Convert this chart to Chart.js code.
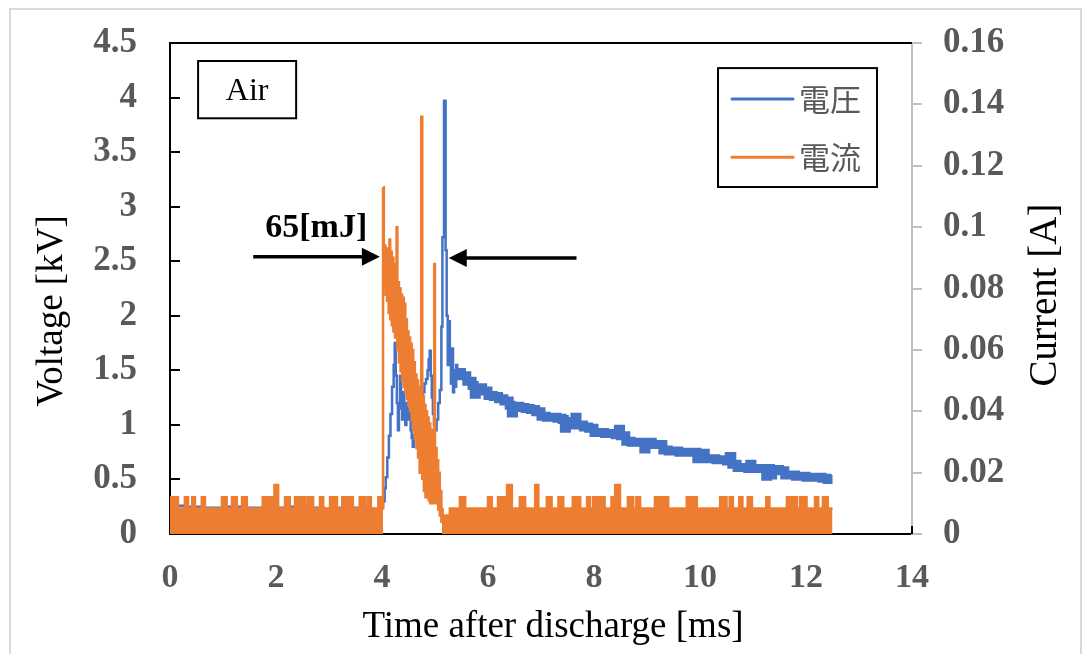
<!DOCTYPE html>
<html><head><meta charset="utf-8">
<script src="https://cdn.jsdelivr.net/npm/chart.js@4"></script>
<style>html,body{margin:0;padding:0;background:#fff}canvas{display:block}</style>
</head><body>
<canvas id="c" width="1091" height="654"></canvas>
<script>
// ---- tick values and labels ----
const timeTicksMs = [0, 2, 4, 6, 8, 10, 12, 14];
const timeTickLabels = ['0', '2', '4', '6', '8', '10', '12', '14'];
const voltageTicksKV = [0, 0.5, 1, 1.5, 2, 2.5, 3, 3.5, 4, 4.5];
const voltageTickLabels = ['0', '0.5', '1', '1.5', '2', '2.5', '3', '3.5', '4', '4.5'];
const currentTicksA = [0, 0.02, 0.04, 0.06, 0.08, 0.1, 0.12, 0.14, 0.16];
const currentTickLabels = ['0', '0.02', '0.04', '0.06', '0.08', '0.1', '0.12', '0.14', '0.16'];
const seriesLabels = ['電圧', '電流'];

// ---- voltage series (time in ms, value in kV) ----
const voltageTimeMs = [
  0, 0.3, 0.6, 1.0, 1.4, 1.8, 2.2, 2.6, 2.9, 3.2, 3.5, 3.78, 3.82, 3.87, 3.95,
  4.02, 4.05, 4.07, 4.10, 4.13, 4.16, 4.19, 4.22, 4.24, 4.26, 4.28, 4.30, 4.32, 4.34, 4.36, 4.38,
  4.40, 4.42, 4.44, 4.46, 4.48, 4.50, 4.52, 4.54, 4.56, 4.58, 4.60, 4.62, 4.65, 4.68, 4.71, 4.74,
  4.77, 4.80, 4.83, 4.86, 4.88, 4.90, 4.92, 4.94, 4.96, 4.98, 5.00, 5.03, 5.06, 5.09, 5.12, 5.14,
  5.17, 5.20, 5.22, 5.24, 5.26, 5.28, 5.30, 5.32, 5.34, 5.36, 5.38, 5.40,
  5.42, 5.5, 5.6, 5.7, 5.74, 5.78, 5.9, 6.0, 6.1, 6.2, 6.3, 6.4, 6.44, 6.48, 6.6, 6.7, 6.8, 6.9,
  7.0, 7.1, 7.2, 7.3, 7.4, 7.44, 7.48, 7.6, 7.64, 7.68, 7.8, 7.9, 8.0, 8.1, 8.2, 8.3, 8.4, 8.46,
  8.5, 8.6, 8.7, 8.8, 8.9, 8.94, 8.98, 9.1, 9.2, 9.3, 9.4, 9.5, 9.6, 9.7, 9.8, 9.9, 9.94, 9.98,
  10.1, 10.2, 10.3, 10.4, 10.5, 10.55, 10.6, 10.7, 10.8, 10.9, 10.94, 10.98, 11.1, 11.2, 11.24,
  11.28, 11.33, 11.37, 11.5, 11.6, 11.7, 11.8, 11.9, 12.0, 12.1, 12.2, 12.3, 12.4, 12.5
];
const voltageKV = [
  0.26, 0.25, 0.24, 0.25, 0.24, 0.24, 0.25, 0.24, 0.23, 0.24, 0.24, 0.22, 0.12, 0.2, 0.25,
  0.3, 0.42, 0.52, 0.7, 0.9, 1.1, 1.35, 1.55, 1.75, 1.45, 1.2, 0.95, 1.15, 1.45, 1.2, 1.05,
  1.3, 1.1, 1.0, 1.2, 1.1, 1.05, 1.15, 0.95, 0.88, 0.8, 0.9, 1.0, 1.08, 1.1, 1.18, 1.25,
  1.3, 1.38, 1.42, 1.5, 1.6, 1.68, 1.45, 1.25, 1.1, 1.0, 0.95, 1.05, 1.2, 1.32, 1.9, 2.72,
  3.97, 2.6, 2.0, 1.55, 1.95, 1.6, 1.38, 1.7, 1.3, 1.5, 1.35, 1.55,
  1.48, 1.45, 1.4, 1.36, 1.28, 1.34, 1.31, 1.27, 1.26, 1.24, 1.22, 1.18, 1.11, 1.17, 1.16, 1.15, 1.14, 1.12,
  1.08, 1.07, 1.07, 1.06, 1.05, 0.97, 1.03, 1.0, 1.07, 1.0, 0.98, 0.97, 0.93, 0.93, 0.92, 0.92, 0.91, 0.96,
  0.9, 0.85, 0.84, 0.84, 0.84, 0.78, 0.84, 0.82, 0.82, 0.77, 0.76, 0.76, 0.75, 0.75, 0.75, 0.75, 0.69, 0.74,
  0.69, 0.69, 0.68, 0.68, 0.67, 0.71, 0.64, 0.61, 0.61, 0.6, 0.64, 0.6, 0.6, 0.6, 0.53,
  0.6, 0.54, 0.59, 0.58, 0.54, 0.54, 0.53, 0.53, 0.52, 0.52, 0.52, 0.51, 0.5, 0.5
];

// ---- current series (time in ms, value in A), sample-and-hold ----
const currentTimeMs = [
  0, 0.06, 0.09, 0.15, 0.28, 0.34, 0.42, 0.47, 0.6, 0.66, 0.98, 1.07, 1.17, 1.26, 1.36, 1.45,
  1.75, 1.85, 1.89, 1.97, 2.04, 2.17, 2.26, 2.36, 2.43, 2.46, 2.55, 2.6, 2.7, 2.83, 2.89,
  3.02, 3.15, 3.25, 3.34, 3.37, 3.45, 3.58, 3.68, 3.73, 3.79, 3.82, 3.86, 3.93, 3.98,
  4.02, 4.035, 4.05, 4.065, 4.08, 4.095, 4.11, 4.125, 4.14, 4.155, 4.17, 4.185, 4.2, 4.215,
  4.23, 4.245, 4.26, 4.275, 4.29, 4.305, 4.32, 4.335, 4.35, 4.365, 4.38, 4.395, 4.41, 4.425,
  4.44, 4.455, 4.47, 4.485, 4.5, 4.515, 4.53, 4.545, 4.56, 4.575, 4.59, 4.605, 4.62, 4.635,
  4.65, 4.665, 4.68, 4.695, 4.71, 4.725, 4.74, 4.76, 4.775, 4.79, 4.805, 4.82, 4.835, 4.85,
  4.865, 4.88, 4.895, 4.91, 4.925, 4.94, 4.955, 4.97, 4.985, 5.0, 5.015, 5.03, 5.045, 5.06,
  5.075, 5.09, 5.105, 5.12, 5.13,
  5.145, 5.28, 5.47, 5.57, 6.0, 6.07, 6.19, 6.36, 6.45, 6.6, 6.7, 6.89, 6.95, 7.11, 7.2,
  7.33, 7.42, 7.6, 7.74, 7.87, 7.92, 7.98, 8.08, 8.11, 8.2, 8.33, 8.4, 8.49, 8.64, 8.74,
  8.8, 8.87, 9.15, 9.3, 9.33, 9.4, 9.75, 9.94, 10.38, 10.5, 10.56, 10.62, 10.74, 10.8,
  10.9, 10.98, 11.25, 11.31, 11.64, 11.83, 11.89, 12.01, 12.17, 12.23, 12.32, 12.41, 12.5
];
const currentA = [
  0.012, 0.0083, 0.012, 0.0083, 0.012, 0.0083, 0.012, 0.0083, 0.012, 0.0083, 0.012, 0.0083, 0.012, 0.0083, 0.012, 0.0083,
  0.012, 0.0083, 0.012, 0.016, 0.0083, 0.012, 0.0083, 0.012, 0.0083, 0.012, 0.0083, 0.012, 0.0083, 0.012, 0.0083,
  0.012, 0.0083, 0.012, 0.0083, 0.012, 0.0083, 0.012, 0.0083, 0.012, 0.0083, 0.003, 0.0083, 0.012, 0.0083,
  0.113, 0.08, 0.094, 0.078, 0.093, 0.076, 0.093, 0.072, 0.096, 0.07, 0.092, 0.068, 0.09, 0.066,
  0.088, 0.064, 0.084, 0.1, 0.06, 0.082, 0.056, 0.08, 0.053, 0.078, 0.05, 0.077, 0.048, 0.075,
  0.046, 0.07, 0.044, 0.066, 0.042, 0.064, 0.04, 0.062, 0.037, 0.06, 0.034, 0.056, 0.031, 0.052,
  0.028, 0.05, 0.025, 0.048, 0.02, 0.046, 0.136, 0.018, 0.045, 0.014, 0.042, 0.012, 0.04, 0.012,
  0.038, 0.011, 0.036, 0.01, 0.034, 0.01, 0.03, 0.01, 0.088, 0.012, 0.028, 0.01, 0.024, 0.008,
  0.02, 0.006, 0.014, 0.004, 0.008,
  0.006, 0.0083, 0.012, 0.0083, 0.012, 0.0083, 0.012, 0.016, 0.0083, 0.012, 0.0083, 0.016, 0.0083, 0.012, 0.0083,
  0.012, 0.0083, 0.012, 0.0083, 0.012, 0.0083, 0.012, 0.0083, 0.012, 0.0083, 0.012, 0.016, 0.0083, 0.012, 0.0083,
  0.012, 0.0083, 0.012, 0.0083, 0.012, 0.0083, 0.012, 0.0083, 0.012, 0.0083, 0.012, 0.0083, 0.012, 0.0083,
  0.012, 0.0083, 0.012, 0.0083, 0.012, 0.0083, 0.012, 0.0083, 0.012, 0.0083, 0.012, 0.0083, 0.0083
];

// discharge window: the current trace is not shaded in here
const dischargeWindowMs = [4.02, 5.13];
// voltage decay part, drawn as a thick noisy band
const voltageBandFromMs = 5.42;

// ---- annotations (in data units: ms / kV) ----
const sampleLabel = 'Air';
const sampleBox = {x0: 0.53, x1: 2.38, y0: 4.335, y1: 3.81};
const energyLabel = '65[mJ]';
const energyLabelPos = {x: 2.76, y: 2.72};
const energyArrows = [
  {fromMs: 1.57, toMs: 3.96, kV: 2.54},
  {fromMs: 7.67, toMs: 5.26, kV: 2.53}
];
const legendBox = {x0: 10.34, x1: 13.34, y0: 4.27, y1: 3.18};

const titles = {
  x: 'Time after discharge [ms]',
  yLeft: 'Voltage [kV]',
  yRight: 'Current [A]'
};

const BLUE = '#4472C4';
const ORANGE = '#ED7D31';
const TICK_COLOR = '#595959';
const SERIF = '"Liberation Serif", "Times New Roman", serif';
const CJK = '"Noto Sans CJK JP", "Noto Sans CJK SC", sans-serif';

const voltagePoints = voltageTimeMs.map((t, i) => ({x: t, y: voltageKV[i]}));
const currentPoints = currentTimeMs.map((t, i) => ({x: t, y: currentA[i]}));

const inDischarge = ctx => ctx.p0.parsed.x >= dischargeWindowMs[0] - 1e-9 && ctx.p1.parsed.x <= dischargeWindowMs[1] + 1e-9;

function arrow(ctx, x0, y, x1) {
  const dir = x1 > x0 ? 1 : -1;
  const head = 18, half = 9;
  ctx.beginPath();
  ctx.moveTo(x0, y);
  ctx.lineTo(x1 - dir * head + dir * 2, y);
  ctx.lineWidth = 3.5;
  ctx.strokeStyle = '#000';
  ctx.stroke();
  ctx.beginPath();
  ctx.moveTo(x1, y);
  ctx.lineTo(x1 - dir * head, y - half);
  ctx.lineTo(x1 - dir * head, y + half);
  ctx.closePath();
  ctx.fillStyle = '#000';
  ctx.fill();
}

const decorations = {
  id: 'decorations',
  beforeDraw(chart) {
    const ctx = chart.ctx;
    ctx.save();
    ctx.fillStyle = '#fff';
    ctx.fillRect(0, 0, chart.width, chart.height);
    ctx.strokeStyle = '#d9d9d9';
    ctx.lineWidth = 2;
    ctx.strokeRect(10, 9, 1071, 660);
    ctx.restore();
  },
  beforeDatasetsDraw(chart) {
    const {ctx, chartArea: a, scales} = chart;
    ctx.save();
    ctx.strokeStyle = '#000';
    ctx.lineWidth = 2;
    // plot top border
    ctx.beginPath();
    ctx.moveTo(a.left - 1, a.top);
    ctx.lineTo(a.right, a.top);
    ctx.stroke();
    // inward ticks on the voltage axis
    voltageTicksKV.forEach(v => {
      const y = Math.round(scales.yV.getPixelForValue(v));
      ctx.beginPath();
      ctx.moveTo(a.left, y);
      ctx.lineTo(a.left + 10, y);
      ctx.stroke();
    });
    // inward ticks on the time axis
    timeTicksMs.forEach(t => {
      const x = Math.round(scales.x.getPixelForValue(t));
      ctx.beginPath();
      ctx.moveTo(x, a.bottom);
      ctx.lineTo(x, a.bottom - 8);
      ctx.stroke();
    });
    ctx.restore();
  },
  afterDatasetsDraw(chart) {
    const {ctx, scales} = chart;
    const X = v => scales.x.getPixelForValue(v);
    const Y = v => scales.yV.getPixelForValue(v);
    ctx.save();
    // sample box
    ctx.fillStyle = '#fff';
    ctx.strokeStyle = '#000';
    ctx.lineWidth = 2;
    const bx0 = X(sampleBox.x0), bx1 = X(sampleBox.x1), by0 = Y(sampleBox.y0), by1 = Y(sampleBox.y1);
    ctx.fillRect(bx0, by0, bx1 - bx0, by1 - by0);
    ctx.strokeRect(bx0, by0, bx1 - bx0, by1 - by0);
    ctx.fillStyle = '#000';
    ctx.font = '32px ' + SERIF;
    ctx.textAlign = 'center';
    ctx.textBaseline = 'middle';
    ctx.fillText(sampleLabel, (bx0 + bx1) / 2, (by0 + by1) / 2 + 2);

    // energy label and arrows
    ctx.font = 'bold 34px ' + SERIF;
    ctx.textBaseline = 'alphabetic';
    ctx.fillText(energyLabel, X(energyLabelPos.x), Y(energyLabelPos.y));
    energyArrows.forEach(a => arrow(ctx, X(a.fromMs), Y(a.kV), X(a.toMs)));

    // legend
    const lx0 = X(legendBox.x0), lx1 = X(legendBox.x1), ly0 = Y(legendBox.y0), ly1 = Y(legendBox.y1);
    ctx.fillStyle = '#fff';
    ctx.fillRect(lx0, ly0, lx1 - lx0, ly1 - ly0);
    ctx.lineWidth = 2;
    ctx.strokeStyle = '#000';
    ctx.strokeRect(lx0, ly0, lx1 - lx0, ly1 - ly0);
    const rowH = (ly1 - ly0);
    chart.data.datasets.forEach((ds, i) => {
      const y = ly0 + rowH * (0.26 + 0.49 * i);
      ctx.beginPath();
      ctx.moveTo(lx0 + 14, y);
      ctx.lineTo(lx0 + 75, y);
      ctx.lineWidth = 3;
      ctx.lineCap = 'round';
      ctx.strokeStyle = ds.borderColor;
      ctx.stroke();
      ctx.fillStyle = TICK_COLOR;
      ctx.font = '31px ' + CJK;
      ctx.textAlign = 'left';
      ctx.textBaseline = 'middle';
      ctx.fillText(ds.label, lx0 + 81, y);
    });
    ctx.restore();
  },
  afterDraw(chart) {
    const ctx = chart.ctx;
    ctx.save();
    ctx.fillStyle = '#000';
    ctx.font = '37px ' + SERIF;
    ctx.textAlign = 'center';
    ctx.textBaseline = 'middle';
    ctx.fillText(titles.x, 553, 627);
    ctx.translate(52, 311);
    ctx.rotate(-Math.PI / 2);
    ctx.fillText(titles.yLeft, 0, 0);
    ctx.restore();
    ctx.save();
    ctx.fillStyle = '#000';
    ctx.font = '39px ' + SERIF;
    ctx.textAlign = 'center';
    ctx.textBaseline = 'middle';
    ctx.translate(1046, 295);
    ctx.rotate(-Math.PI / 2);
    ctx.fillText(titles.yRight, 0, 0);
    ctx.restore();
  }
};

const yTickFont = {family: SERIF, size: 35, weight: 'bold'};
const xTickFont = {family: SERIF, size: 34, weight: 'bold'};
const noScalePadding = s => { s.paddingTop = 0; s.paddingBottom = 0; s.paddingLeft = 0; s.paddingRight = 0; };

new Chart(document.getElementById('c'), {
  type: 'line',
  data: {
    datasets: [
      {
        label: seriesLabels[0],
        data: voltagePoints,
        yAxisID: 'yV',
        borderColor: BLUE,
        backgroundColor: BLUE,
        borderWidth: 2.5,
        pointRadius: 0,
        stepped: true,
        fill: false,
        order: 1,
        segment: {
          borderWidth: ctx => ctx.p0.parsed.x >= voltageBandFromMs - 1e-9 ? 9 : 2.5
        }
      },
      {
        label: seriesLabels[1],
        data: currentPoints,
        yAxisID: 'yA',
        borderColor: ORANGE,
        backgroundColor: ORANGE,
        borderWidth: 2.5,
        pointRadius: 0,
        stepped: true,
        fill: 'origin',
        order: 0,
        segment: {
          backgroundColor: ctx => inDischarge(ctx) ? 'rgba(237,125,49,0)' : ORANGE
        }
      }
    ]
  },
  options: {
    responsive: false,
    animation: false,
    parsing: false,
    normalized: true,
    layout: {autoPadding: false, padding: {top: 43, left: 0, right: 0, bottom: 0}},
    plugins: {legend: {display: false}, tooltip: {enabled: false}, title: {display: false}},
    scales: {
      x: {
        type: 'linear',
        position: 'bottom',
        min: 0, max: 14,
        afterBuildTicks: s => { s.ticks = timeTicksMs.map(v => ({value: v})); },
        afterFit: s => { s.height = 120; noScalePadding(s); },
        ticks: {
          callback: (v, i) => timeTickLabels[i],
          font: xTickFont, color: TICK_COLOR, padding: 24,
          maxRotation: 0, autoSkip: false
        },
        grid: {display: true, drawOnChartArea: false, drawTicks: false},
        border: {display: true, color: '#000', width: 2}
      },
      yV: {
        type: 'linear',
        position: 'left',
        min: 0, max: 4.5,
        afterBuildTicks: s => { s.ticks = voltageTicksKV.map(v => ({value: v})); },
        afterFit: s => { s.width = 170; noScalePadding(s); },
        ticks: {
          callback: (v, i) => voltageTickLabels[i],
          font: yTickFont, color: TICK_COLOR, padding: 33, autoSkip: false
        },
        grid: {display: true, drawOnChartArea: false, drawTicks: false},
        border: {display: true, color: '#000', width: 2}
      },
      yA: {
        type: 'linear',
        position: 'right',
        min: 0, max: 0.16,
        afterBuildTicks: s => { s.ticks = currentTicksA.map(v => ({value: v})); },
        afterFit: s => { s.width = 179; noScalePadding(s); },
        ticks: {
          callback: (v, i) => currentTickLabels[i],
          font: yTickFont, color: TICK_COLOR, padding: 21, autoSkip: false
        },
        grid: {display: true, drawOnChartArea: false, drawTicks: true, tickLength: 10, color: '#bfbfbf', lineWidth: 2},
        border: {display: true, color: '#bfbfbf', width: 2}
      }
    }
  },
  plugins: [decorations]
});
</script>
</body></html>
